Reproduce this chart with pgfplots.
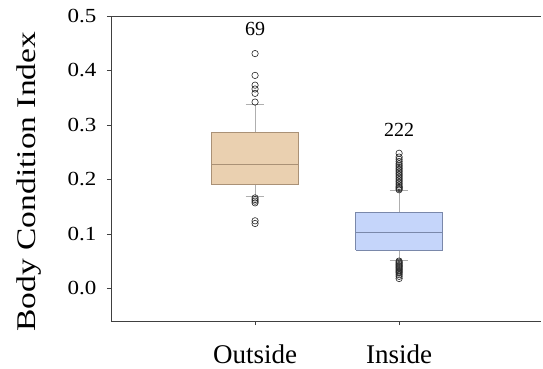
\documentclass[border=0pt]{standalone}
\usepackage{pgfplots}
\pgfplotsset{compat=1.18}
\usepackage{fontspec}
\setmainfont{Liberation Serif}
\definecolor{tanfill}{RGB}{234,208,176}
\definecolor{tanedge}{RGB}{170,145,118}
\definecolor{bluefill}{RGB}{197,213,250}
\definecolor{blueedge}{RGB}{122,136,170}
\definecolor{whisk}{RGB}{175,175,175}
\begin{document}
\begin{tikzpicture}
\begin{axis}[
  at={(0,0)}, anchor=south west,
  scale only axis, width=430pt, height=305pt,
  xmin=0, xmax=2.985, ymin=-0.06, ymax=0.5,
  axis x line=box, axis y line=left,
  axis line style={-, black!75, line width=0.8pt},
  xtick={1,2}, xticklabels={Outside, Inside},
  ytick={0,0.1,0.2,0.3,0.4,0.5},
  yticklabel={\scalebox{1.15}[1]{\pgfmathprintnumber[fixed,fixed zerofill,precision=1,assume math mode=true]{\tick}}},
  xtick pos=bottom, ytick pos=left, tick align=outside,
  major tick length=4pt, tick style={black!75, line width=0.6pt},
  yticklabel style={font=\fontsize{20}{22}\selectfont, xshift=-7pt},
  xticklabel style={font=\fontsize{27}{29}\selectfont, anchor=base, yshift=-38pt},
  ylabel={\scalebox{1.24}[1]{Body Condition Index}},
  every axis y label/.style={at={(axis description cs:-0.19,0.457)}, rotate=90, anchor=center, font=\fontsize{27}{29}\selectfont},
  clip=false,
]
% whiskers
\addplot[whisk, line width=0.7pt] coordinates {(1,0.287)(1,0.338)};
\addplot[whisk, line width=0.7pt] coordinates {(0.935,0.338)(1.065,0.338)};
\addplot[whisk, line width=0.7pt] coordinates {(1,0.190)(1,0.168)};
\addplot[whisk, line width=0.7pt] coordinates {(0.935,0.168)(1.065,0.168)};
\addplot[whisk, line width=0.7pt] coordinates {(2,0.139)(2,0.180)};
\addplot[whisk, line width=0.7pt] coordinates {(1.935,0.180)(2.065,0.180)};
\addplot[whisk, line width=0.7pt] coordinates {(2,0.070)(2,0.052)};
\addplot[whisk, line width=0.7pt] coordinates {(1.935,0.052)(2.065,0.052)};
% boxes
\addplot[draw=tanedge, fill=tanfill, line width=0.9pt, line join=miter]
  coordinates {(0.7,0.190)(1.3,0.190)(1.3,0.287)(0.7,0.287)(0.7,0.190)};
\addplot[tanedge, line width=0.9pt] coordinates {(0.7,0.228)(1.3,0.228)};
\addplot[draw=blueedge, fill=bluefill, line width=0.9pt, line join=miter]
  coordinates {(1.7,0.070)(2.3,0.070)(2.3,0.139)(1.7,0.139)(1.7,0.070)};
\addplot[blueedge, line width=0.9pt] coordinates {(1.7,0.103)(2.3,0.103)};
% outliers
\addplot[only marks, mark=o, mark size=3.2pt, mark options={draw=black!85, line width=0.6pt}]
coordinates {(1,0.431)(1,0.391)(1,0.373)(1,0.366)(1,0.358)(1,0.342)
  (1,0.166)(1,0.163)(1,0.160)(1,0.157)(1,0.124)(1,0.119)};
\addplot[only marks, mark=o, mark size=3.2pt, mark options={draw=black!85, line width=0.6pt}]
coordinates {(2,0.248)(2,0.241)(2,0.237)(2,0.233)(2,0.229)(2,0.226)(2,0.223)
  (2,0.220)(2,0.217)(2,0.214)(2,0.211)(2,0.208)(2,0.205)(2,0.202)(2,0.199)
  (2,0.196)(2,0.193)(2,0.190)(2,0.187)(2,0.185)(2,0.183)(2,0.181)
  (2,0.050)(2,0.048)(2,0.046)(2,0.044)(2,0.042)(2,0.040)(2,0.038)(2,0.036)
  (2,0.034)(2,0.032)(2,0.030)(2,0.028)(2,0.025)(2,0.022)(2,0.018)};
\node[font=\fontsize{20}{22}\selectfont] at (axis cs:1,0.476) {69};
\node[font=\fontsize{20}{22}\selectfont] at (axis cs:2,0.2915) {222};
\end{axis}
\pgfresetboundingbox
\path[use as bounding box] (-111pt,-47pt) rectangle (432pt,321pt);
\end{tikzpicture}
\end{document}
